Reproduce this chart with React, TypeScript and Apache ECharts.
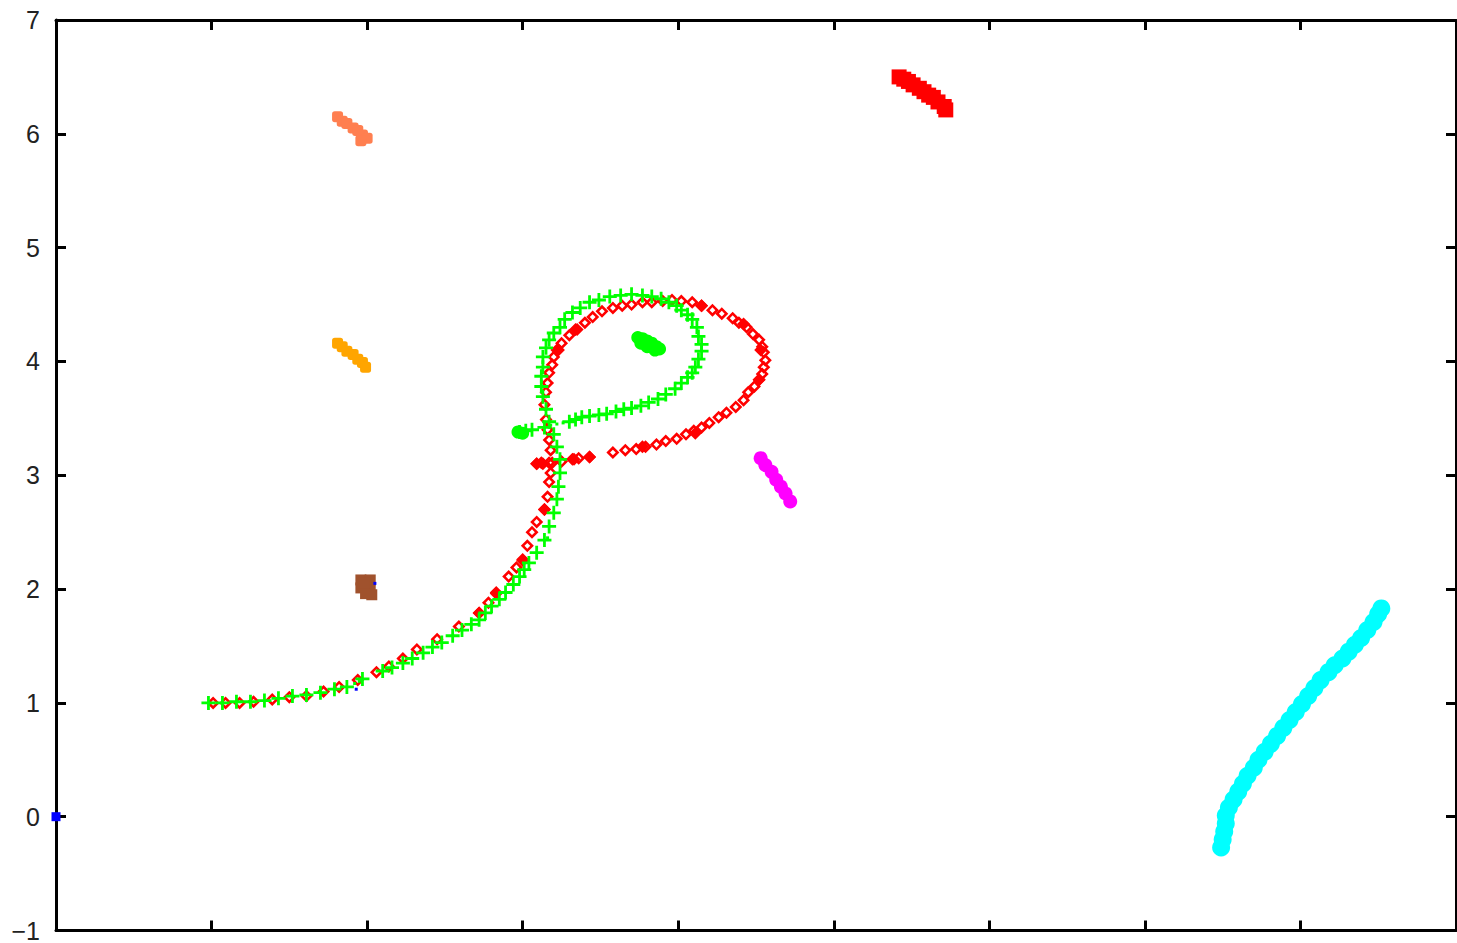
import React, { useEffect, useRef } from "react";
import * as echarts from "echarts";

type P = [number, number];

// green "+" trajectory
const greenCurve: P[] = [
  [0.98, 1.0], [1.07, 1.0], [1.16, 1.01], [1.25, 1.01], [1.34, 1.02], [1.43, 1.04], [1.52, 1.06],
  [1.61, 1.07], [1.7, 1.09], [1.79, 1.12], [1.87, 1.14], [1.97, 1.21], [2.1, 1.28], [2.16, 1.31],
  [2.23, 1.35], [2.29, 1.39], [2.36, 1.44], [2.42, 1.49], [2.48, 1.53], [2.55, 1.59], [2.61, 1.64],
  [2.67, 1.69], [2.72, 1.73], [2.76, 1.79], [2.8, 1.85], [2.85, 1.91], [2.89, 1.97], [2.94, 2.04],
  [2.98, 2.11], [3.01, 2.17], [3.04, 2.23], [3.09, 2.32], [3.14, 2.43], [3.17, 2.55], [3.2, 2.67],
  [3.22, 2.79], [3.23, 2.9], [3.24, 3.02], [3.24, 3.14], [3.22, 3.25], [3.2, 3.36], [3.17, 3.47],
  [3.15, 3.58], [3.13, 3.69], [3.12, 3.78], [3.12, 3.87], [3.13, 3.95], [3.13, 4.04], [3.15, 4.12],
  [3.17, 4.19], [3.2, 4.25], [3.24, 4.3], [3.27, 4.37], [3.32, 4.43], [3.37, 4.47], [3.43, 4.52],
  [3.49, 4.54], [3.56, 4.57], [3.63, 4.58], [3.7, 4.59], [3.77, 4.58], [3.83, 4.57], [3.89, 4.55],
  [3.94, 4.52], [3.99, 4.49], [4.02, 4.45], [4.06, 4.41], [4.09, 4.37], [4.12, 4.3], [4.13, 4.22],
  [4.15, 4.15], [4.15, 4.09], [4.13, 4.02], [4.11, 3.95], [4.09, 3.9], [4.06, 3.86], [4.02, 3.81],
  [3.98, 3.76], [3.92, 3.71], [3.87, 3.67], [3.81, 3.64], [3.76, 3.61], [3.7, 3.59], [3.65, 3.58],
  [3.6, 3.56], [3.54, 3.54], [3.49, 3.53], [3.43, 3.52], [3.38, 3.51], [3.34, 3.49], [3.3, 3.47],
  [3.14, 3.42], [3.06, 3.4], [3.02, 3.39], [2.98, 3.38],
];
const greenDots: P[] = [[3.26, 3.46], [3.22, 3.45], [3.18, 3.44], [1.92, 1.17], [1.95, 1.19], [3.16, 2.45]];
const greenBlob: P[] = [
  [3.74, 4.21], [3.77, 4.2], [3.8, 4.18], [3.83, 4.16], [3.86, 4.13], [3.88, 4.11], [3.76, 4.16],
  [3.8, 4.13], [3.85, 4.1], [2.97, 3.38], [3.0, 3.37],
];

// red diamond trajectory
const redHollow: P[] = [
  [1.01, 1.0], [1.09, 1.0], [1.18, 1.0], [1.27, 1.01], [1.39, 1.03], [1.5, 1.05], [1.61, 1.06],
  [1.72, 1.1], [1.82, 1.14], [1.94, 1.2], [2.06, 1.27], [2.14, 1.32], [2.23, 1.39], [2.32, 1.47],
  [2.45, 1.56], [2.59, 1.67], [2.72, 1.79], [2.78, 1.88], [2.83, 1.97], [2.91, 2.11], [2.96, 2.19],
  [3.0, 2.26], [3.03, 2.38], [3.06, 2.5], [3.09, 2.59], [3.14, 2.7], [3.16, 2.81], [3.17, 2.94],
  [3.18, 3.02], [3.19, 3.11], [3.18, 3.22], [3.17, 3.31], [3.16, 3.4], [3.15, 3.49], [3.14, 3.62],
  [3.15, 3.73], [3.16, 3.81], [3.17, 3.9], [3.19, 3.97], [3.2, 4.04], [3.23, 4.1], [3.25, 4.16],
  [3.3, 4.23], [3.34, 4.28], [3.4, 4.34], [3.45, 4.39], [3.51, 4.44], [3.58, 4.47], [3.64, 4.49],
  [3.7, 4.5], [3.77, 4.52], [3.83, 4.52], [3.9, 4.53], [3.96, 4.54], [4.02, 4.53], [4.09, 4.52],
  [4.15, 4.49], [4.22, 4.45], [4.28, 4.42], [4.35, 4.38], [4.39, 4.34], [4.44, 4.3], [4.48, 4.24],
  [4.52, 4.19], [4.54, 4.13], [4.55, 4.08], [4.56, 4.01], [4.55, 3.95], [4.54, 3.89], [4.52, 3.84],
  [4.49, 3.78], [4.45, 3.73], [4.42, 3.66], [4.37, 3.6], [4.31, 3.55], [4.26, 3.51], [4.2, 3.46],
  [4.15, 3.42], [4.1, 3.39], [4.05, 3.36], [3.99, 3.32], [3.92, 3.3], [3.86, 3.27], [3.79, 3.25],
  [3.73, 3.23], [3.66, 3.22], [3.58, 3.2], [3.43, 3.16], [3.36, 3.15], [3.32, 3.14], [3.25, 3.12],
  [3.17, 3.11], [3.12, 3.11], [3.09, 3.1],
];
const redFilled: P[] = [
  [3.09, 3.1], [3.13, 3.1], [3.33, 3.14], [3.43, 3.16], [3.77, 3.25], [4.11, 3.37], [4.52, 3.84],
  [4.53, 4.1], [4.42, 4.33], [4.15, 4.49], [3.35, 4.28], [3.22, 4.1], [3.0, 2.25], [3.14, 2.7],
  [2.83, 1.96], [2.72, 1.79],
];
const redSquares: P[] = [
  [5.42, 6.5], [5.45, 6.48], [5.48, 6.46], [5.51, 6.43], [5.55, 6.4], [5.58, 6.37], [5.61, 6.34],
  [5.64, 6.32], [5.67, 6.28], [5.71, 6.24], [5.72, 6.21],
];
const coral: P[] = [
  [1.81, 6.15], [1.84, 6.11], [1.87, 6.09], [1.91, 6.05], [1.94, 6.03], [1.97, 5.99], [2.0, 5.96],
  [1.96, 5.94],
];
const orange: P[] = [
  [1.81, 4.16], [1.84, 4.13], [1.87, 4.09], [1.91, 4.06], [1.94, 4.02], [1.97, 3.99], [1.99, 3.95],
];
const brown: P[] = [
  [1.96, 2.08], [2.02, 2.08], [1.96, 2.01], [2.02, 2.01], [1.99, 1.96], [2.03, 1.95], [1.98, 2.05],
];
const magenta: P[] = [
  [4.53, 3.15], [4.56, 3.09], [4.6, 3.03], [4.63, 2.96], [4.66, 2.9], [4.69, 2.84], [4.72, 2.77],
];
const cyan: P[] = [
  [7.49, -0.27], [7.5, -0.2], [7.51, -0.13], [7.52, -0.06], [7.52, 0.01], [7.54, 0.08], [7.57, 0.15],
  [7.6, 0.22], [7.63, 0.29], [7.66, 0.36], [7.7, 0.43], [7.73, 0.5], [7.77, 0.57], [7.81, 0.64],
  [7.85, 0.71], [7.89, 0.78], [7.93, 0.85], [7.97, 0.92], [8.01, 0.99], [8.05, 1.06], [8.09, 1.13],
  [8.13, 1.2], [8.18, 1.27], [8.22, 1.33], [8.27, 1.39], [8.31, 1.45], [8.35, 1.51], [8.39, 1.57],
  [8.43, 1.64], [8.47, 1.71], [8.5, 1.78], [8.52, 1.83],
];
const blue: P[] = [[0, 0]];
const blueDots: P[] = [[2.05, 2.05], [1.93, 1.12]];

const yTicks = { min: -1, max: 7, step: 1 };
const xTicks = { min: 0, max: 9, step: 1 };

const PLUS = "path://M4,0H6V4H10V6H6V10H4V6H0V4H4Z";
const HOLLOW_DIAMOND = "path://M5,0L10,5L5,10L0,5Z M5,2.8L2.8,5L5,7.2L7.2,5Z";

function scatter(data: P[], color: string, symbol: string, size: number) {
  return {
    type: "scatter",
    data,
    symbol,
    symbolSize: size,
    itemStyle: { color, opacity: 1 },
    emphasis: { disabled: true },
    silent: true,
  };
}

export default function App() {
  const ref = useRef<HTMLDivElement>(null);
  useEffect(() => {
    document.body.style.margin = "0";
    const chart = echarts.init(ref.current!, undefined, { renderer: "svg" });
    const axisLine = (w: number) => ({ show: true, onZero: false, lineStyle: { color: "#000", width: w } });
    const tick = { show: true, inside: true, length: 10, lineStyle: { color: "#000", width: 3 } };
    const xBase = {
      type: "value",
      min: xTicks.min,
      max: xTicks.max,
      interval: xTicks.step,
      axisTick: tick,
      axisLabel: { show: false },
      splitLine: { show: false },
    };
    const yBase = {
      type: "value",
      min: yTicks.min,
      max: yTicks.max,
      interval: yTicks.step,
      axisTick: tick,
      splitLine: { show: false },
    };
    chart.setOption({
      animation: false,
      backgroundColor: "#fff",
      grid: { left: 56, top: 20, width: 1400, height: 911, containLabel: false },
      xAxis: [
        { ...xBase, position: "bottom", axisLine: axisLine(3) },
        { ...xBase, position: "top", axisLine: axisLine(3) },
      ],
      yAxis: [
        {
          ...yBase,
          position: "left",
          axisLine: axisLine(3),
          axisLabel: {
            show: true,
            fontSize: 25,
            color: "#222",
            fontFamily: "Liberation Sans",
            margin: 16,
            formatter: (v: number) => String(v).replace("-", "\u2212"),
          },
        },
        { ...yBase, position: "right", axisLine: axisLine(2), axisLabel: { show: false } },
      ],
      series: [
        scatter(blue, "#0000ff", "rect", 9),
        scatter(redHollow, "#ff0000", HOLLOW_DIAMOND, 13),
        scatter(redFilled, "#ff0000", "diamond", 13),
        scatter(greenCurve, "#00ff00", PLUS, 14),
        scatter(greenDots, "#00ff00", "rect", 3),
        scatter(greenBlob, "#00ff00", "circle", 13),
        scatter(redSquares, "#ff0000", "rect", 15),
        scatter(coral, "#ff7f50", "roundRect", 11),
        scatter(orange, "#ffa500", "roundRect", 11),
        scatter(brown, "#a0522d", "rect", 11),
        scatter(blueDots, "#0000ff", "rect", 3),
        scatter(magenta, "#ff00ff", "circle", 14),
        scatter(cyan, "#00ffff", "circle", 18),
      ],
    });
    return () => chart.dispose();
  }, []);
  return <div ref={ref} style={{ width: 1457, height: 943 }} />;
}
